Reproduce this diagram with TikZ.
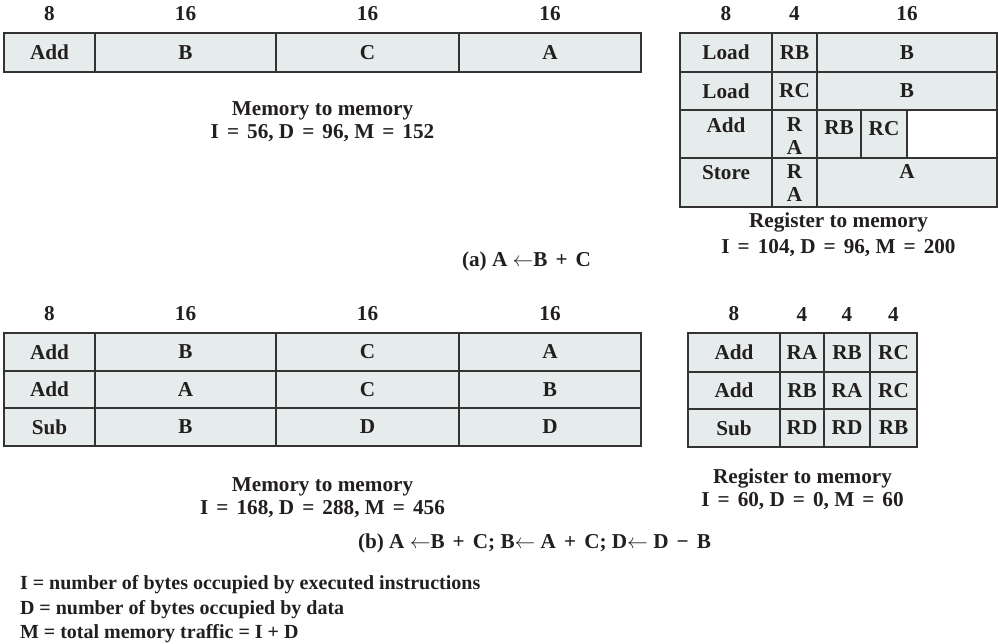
\documentclass[tikz,border=0pt]{standalone}
\usepackage{fontspec}
\setmainfont{Liberation Serif}
\usetikzlibrary{positioning}
\definecolor{cellfill}{HTML}{E6ECEC}
\definecolor{cellline}{HTML}{333333}
\definecolor{inkblack}{HTML}{231F20}
\newcommand{\eqsign}{\hspace{0.38em}=\hspace{0.38em}}
\newcommand{\plussign}{\hspace{0.38em}+\hspace{0.38em}}
\newcommand{\minussign}{\hspace{0.38em}−\hspace{0.38em}}
\newcommand{\getsarrow}{$\leftarrow$}

\begin{document}
\begin{tikzpicture}[x=1pt, y=-1pt,
    every node/.style={font=\fontsize{21.2}{23}\selectfont\bfseries, text=inkblack, inner sep=0pt, outer sep=0pt},
    cell/.style 2 args={draw=cellline, fill=cellfill, line width=1.3pt, align=center, minimum width=#1, minimum height=#2},
    head/.style={above=12pt of #1},
    caption/.style={align=center}]
    \useasboundingbox (0,0) rectangle (998,644);

    % (a) memory to memory
    \node[cell={91pt}{39pt}, anchor=north west] (mmop) at (4,33) {Add};
    \node[cell={181pt}{39pt}, right=0pt of mmop] (mmb) {B};
    \node[cell={183pt}{39pt}, right=0pt of mmb] (mmc) {C};
    \node[cell={182pt}{39pt}, right=0pt of mmc] (mma) {A};
    \node[head=mmop] {8};
    \node[head=mmb] {16};
    \node[head=mmc] {16};
    \node[head=mma] {16};
    \path (mmop.south west) -- (mma.south east) coordinate[midway] (mmbot);
    \node[caption, below=30pt of mmbot] (mmcap) {Memory to memory\\I\eqsign 56, D\eqsign 96, M\eqsign 152};

    % (a) register to memory
    \node[cell={92pt}{39pt}, anchor=north west] (rl1) at (680,33) {Load};
    \node[cell={45pt}{39pt}, right=0pt of rl1] (rr1) {RB};
    \node[cell={180pt}{39pt}, right=0pt of rr1] (rm1) {B};
    \node[cell={92pt}{38pt}, below=0pt of rl1] (rl2) {Load};
    \node[cell={45pt}{38pt}, right=0pt of rl2] (rr2) {RC};
    \node[cell={180pt}{38pt}, right=0pt of rr2] (rm2) {B};
    \node[cell={92pt}{48pt}, below=0pt of rl2] (rl3) {};
    \node[cell={45pt}{48pt}, right=0pt of rl3] (rr3) {};
    \node[cell={44pt}{48pt}, right=0pt of rr3] (rs3) {};
    \node[cell={46pt}{48pt}, right=0pt of rs3] (rt3) {};
    \node[cell={90pt}{48pt}, right=0pt of rt3, fill=white] (ru3) {};
    \node[cell={92pt}{49pt}, below=0pt of rl3] (rl4) {};
    \node[cell={45pt}{49pt}, right=0pt of rl4] (rr4) {};
    \node[cell={180pt}{49pt}, right=0pt of rr4] (rm4) {};
    \node[below=8pt of rl3.north] {Add};
    \node[align=center, below=8pt of rr3.north] {R\\A};
    \node[below=11pt of rs3.north] {RB};
    \node[below=11pt of rt3.north] {RC};
    \node[below=7pt of rl4.north] {Store};
    \node[align=center, below=7pt of rr4.north] {R\\A};
    \node[below=7pt of rm4.north] {A};
    \node[head=rl1] {8};
    \node[head=rr1] {4};
    \node[head=rm1] {16};
    \path (rl4.south west) -- (rm4.south east) coordinate[midway] (rmbot);
    \node[caption, below=6pt of rmbot, font=\fontsize{21.2}{26}\selectfont\bfseries] (rmcap) {Register to memory\\I\eqsign 104, D\eqsign 96, M\eqsign 200};

    \node[anchor=base west] (capa) at (462,267) {(a) A \getsarrow B\plussign C};

    % (b) memory to memory
    \node[cell={91pt}{38pt}, anchor=north west] (m1op) at (4,333) {Add};
    \node[cell={181pt}{38pt}, right=0pt of m1op] (m1x) {B};
    \node[cell={183pt}{38pt}, right=0pt of m1x] (m1y) {C};
    \node[cell={182pt}{38pt}, right=0pt of m1y] (m1z) {A};
    \node[cell={91pt}{37pt}, below=0pt of m1op] (m2op) {Add};
    \node[cell={181pt}{37pt}, right=0pt of m2op] (m2x) {A};
    \node[cell={183pt}{37pt}, right=0pt of m2x] (m2y) {C};
    \node[cell={182pt}{37pt}, right=0pt of m2y] (m2z) {B};
    \node[cell={91pt}{38pt}, below=0pt of m2op] (m3op) {Sub};
    \node[cell={181pt}{38pt}, right=0pt of m3op] (m3x) {B};
    \node[cell={183pt}{38pt}, right=0pt of m3x] (m3y) {D};
    \node[cell={182pt}{38pt}, right=0pt of m3y] (m3z) {D};
    \node[head=m1op] {8};
    \node[head=m1x] {16};
    \node[head=m1y] {16};
    \node[head=m1z] {16};
    \path (m3op.south west) -- (m3z.south east) coordinate[midway] (m3bot);
    \node[caption, below=32pt of m3bot] (m3cap) {Memory to memory\\I\eqsign 168, D\eqsign 288, M\eqsign 456};

    % (b) register to memory
    \node[cell={92pt}{39pt}, anchor=north west] (r1op) at (688,333) {Add};
    \node[cell={44pt}{39pt}, right=0pt of r1op] (r1x) {RA};
    \node[cell={46pt}{39pt}, right=0pt of r1x] (r1y) {RB};
    \node[cell={47pt}{39pt}, right=0pt of r1y] (r1z) {RC};
    \node[cell={92pt}{37pt}, below=0pt of r1op] (r2op) {Add};
    \node[cell={44pt}{37pt}, right=0pt of r2op] (r2x) {RB};
    \node[cell={46pt}{37pt}, right=0pt of r2x] (r2y) {RA};
    \node[cell={47pt}{37pt}, right=0pt of r2y] (r2z) {RC};
    \node[cell={92pt}{38pt}, below=0pt of r2op] (r3op) {Sub};
    \node[cell={44pt}{38pt}, right=0pt of r3op] (r3x) {RD};
    \node[cell={46pt}{38pt}, right=0pt of r3x] (r3y) {RD};
    \node[cell={47pt}{38pt}, right=0pt of r3y] (r3z) {RB};
    \node[head=r1op] {8};
    \node[head=r1x] {4};
    \node[head=r1y] {4};
    \node[head=r1z] {4};
    \path (r3op.south west) -- (r3z.south east) coordinate[midway] (r3bot);
    \node[caption, below=22pt of r3bot] (r3cap) {Register to memory\\I\eqsign 60, D\eqsign 0, M\eqsign 60};

    \node[anchor=base west] (capb) at (358,548) {(b) A \getsarrow B\plussign C; B\getsarrow\ A\plussign C; D\getsarrow\ D\minussign B};

    % legend
    \node[anchor=north west, align=left, font=\fontsize{20}{24.5}\selectfont\bfseries] (legend) at (20,575.5)
        {I = number of bytes occupied by executed instructions\\
         D = number of bytes occupied by data\\
         M = total memory traffic = I + D};
\end{tikzpicture}
\end{document}
